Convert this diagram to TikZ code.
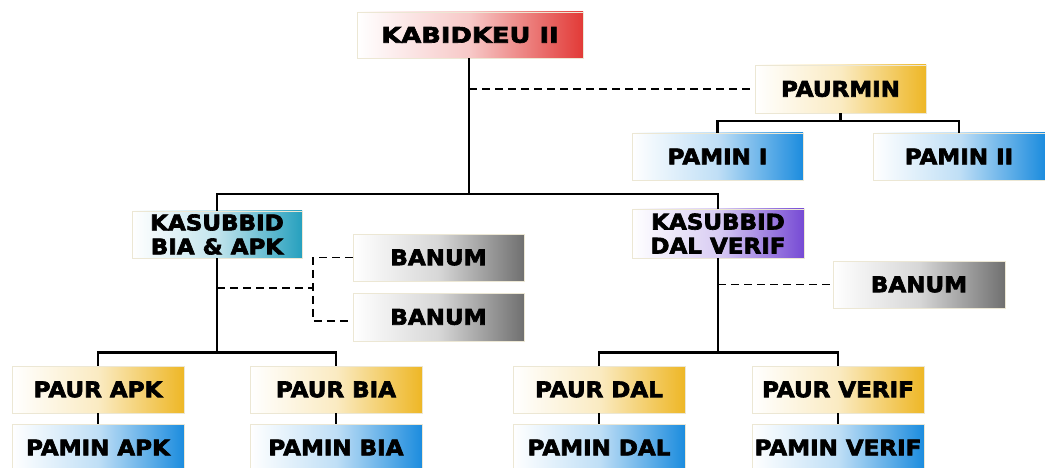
\documentclass[tikz,border=0pt]{standalone}
\usepackage{fontspec}
\newfontfamily\boxfont{DejaVu Sans}[UprightFont=* Bold, FakeBold=3, FakeStretch=1.07]
\newfontfamily\widefont{DejaVu Sans}[UprightFont=* Bold, FakeBold=3, FakeStretch=1.2]
\usetikzlibrary{calc}

\definecolor{cred}{RGB}{226,58,55}
\definecolor{cgold}{RGB}{238,183,38}
\definecolor{cblue}{RGB}{28,140,222}
\definecolor{cteal}{RGB}{38,160,190}
\definecolor{cpurple}{RGB}{118,74,212}
\definecolor{cgrey}{RGB}{112,112,112}
\definecolor{cedge}{RGB}{236,231,212}

\tikzset{
  unit/.style={rectangle, draw=cedge, line width=0.8pt,
    left color=white, right color=#1, middle color=#1!28!white,
    text=black, inner sep=0pt, align=center,
    font=\boxfont\fontsize{21.5}{24}\selectfont},
  wbox/.style={minimum width=#1},
  hbox/.style={minimum height=#1},
  link/.style={line width=2.2pt, black},
  aide/.style={line width=1.7pt, black, dash pattern=on 8pt off 5pt},
}

\begin{document}
\begin{tikzpicture}[x=1pt, y=-1pt]
\useasboundingbox (0,0) rectangle (1045,468);

% head of the unit and its staff officer
\node[unit=cred,   wbox=226pt, hbox=46pt, font=\widefont\fontsize{21.5}{24}\selectfont] (kabid) at (470,35) {KABIDKEU II};
\node[unit=cgold,  wbox=171pt, hbox=48pt] (paurmin) at (840.5,89) {PAURMIN};
\node[unit=cblue,  wbox=171pt, hbox=47pt] (pamin1) at (717.5,156.5) {PAMIN I};
\node[unit=cblue,  wbox=172pt, hbox=47pt] (pamin2) at (959,156.5)   {PAMIN II};

% sub-divisions
\node[unit=cteal,   wbox=170pt, hbox=47pt] (ksa) at (217,234.5) {KASUBBID\\BIA \& APK};
\node[unit=cpurple, wbox=172pt, hbox=49pt] (ksb) at (718,233.5) {KASUBBID\\DAL VERIF};

% assistants
\node[unit=cgrey, wbox=171pt, hbox=47pt] (banum1) at (438.5,257.5) {BANUM};
\node[unit=cgrey, wbox=171pt, hbox=48pt] (banum2) at (438.5,317)   {BANUM};
\node[unit=cgrey, wbox=172pt, hbox=47pt] (banum3) at (919,284.5)   {BANUM};

% section heads
\node[unit=cgold, wbox=172pt, hbox=47pt] (paurapk)   at (98,389.5)  {PAUR APK};
\node[unit=cgold, wbox=172pt, hbox=47pt] (paurbia)   at (336,389.5) {PAUR BIA};
\node[unit=cgold, wbox=172pt, hbox=47pt] (paurdal)   at (599,389.5) {PAUR DAL};
\node[unit=cgold, wbox=172pt, hbox=47pt] (paurverif) at (838,389.5) {PAUR VERIF};

% section officers
\node[unit=cblue, wbox=172pt, hbox=47pt] (paminapk)   at (98,447.5)  {PAMIN APK};
\node[unit=cblue, wbox=172pt, hbox=47pt] (paminbia)   at (336,447.5) {PAMIN BIA};
\node[unit=cblue, wbox=172pt, hbox=47pt] (pamindal)   at (599,447.5) {PAMIN DAL};
\node[unit=cblue, wbox=172pt, hbox=47pt] (paminverif) at (838,447.5) {PAMIN VERIF};

% command lines
\coordinate (bar) at (469,194);
\draw[link] (kabid.south -| bar) -- (bar);
\draw[link] (ksa.north) |- (bar) -| (ksb.north);

\draw[link] (paurmin.south) -- ++(0,8) coordinate (pbar);
\draw[link] (pamin1.north) |- (pbar) -| (pamin2.north);

\draw[link] (ksa.south) -- ++(0,94) coordinate (lbar);
\draw[link] (paurapk.north) |- (lbar) -| (paurbia.north);

\draw[link] (ksb.south) -- ++(0,94) coordinate (rbar);
\draw[link] (paurdal.north) |- (rbar) -| (paurverif.north);

\draw[link] (paurapk) -- (paminapk);
\draw[link] (paurbia) -- (paminbia);
\draw[link] (paurdal) -- (pamindal);
\draw[link] (paurverif) -- (paminverif);

% staff lines
\draw[aide] (paurmin.west -| bar) -- (paurmin.west);
\coordinate (fork) at (313,288);
\draw[aide] (ksa.south |- fork) -- (fork);
\draw[aide] (banum1.west) -| (fork) |- ([yshift=-4pt]banum2.west);
\draw[aide] (ksb.south |- banum3.west) -- (banum3.west);
\end{tikzpicture}
\end{document}
